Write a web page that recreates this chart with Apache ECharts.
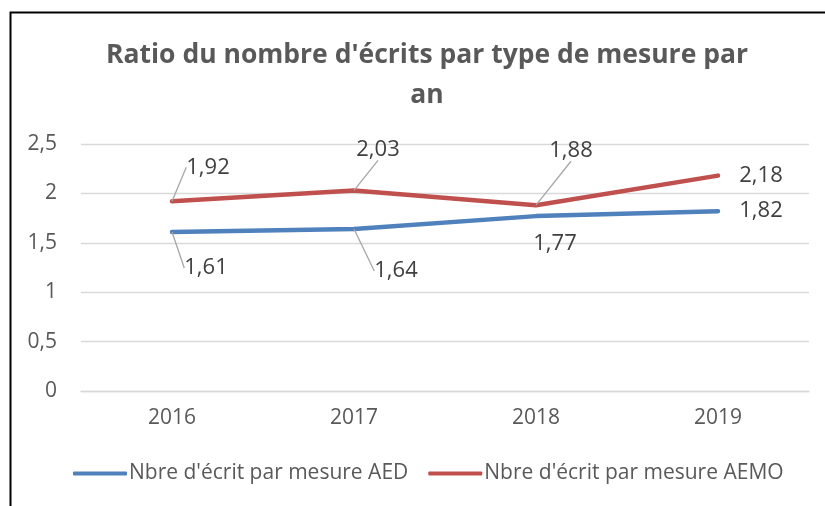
<!DOCTYPE html>
<html>
<head>
<meta charset="utf-8">
<script src="https://cdn.jsdelivr.net/npm/echarts@6/dist/echarts.min.js"></script>
<style>
html,body{margin:0;padding:0;background:#fff;}
#c{width:825px;height:506px;}
</style>
</head>
<body>
<div id="c"></div>
<script>
const categories = ['2016', '2017', '2018', '2019'];
const aedValues = [1.61, 1.64, 1.77, 1.82];
const aemoValues = [1.92, 2.03, 1.88, 2.18];
const seriesNames = ["Nbre d'écrit par mesure AED", "Nbre d'écrit par mesure AEMO"];
const titleText = "Ratio du nombre d'écrits par type de mesure par\nan";

// label displacement (px) relative to each point, and whether a leader line is shown
const aedLabelShift = [[34, 36, true], [42, 42, true], [19, 28, false], [43, 0, false]];
const aemoLabelShift = [[36, -34, true], [24, -41, true], [35, -55, true], [43, 0, false]];

const FONT = 'Open Sans';
const fmt = v => String(v).replace('.', ',');

function buildData(values, shifts) {
  return values.map((v, i) => ({
    value: v,
    labelLine: { show: shifts[i][2] }
  }));
}

function makeSeries(name, values, shifts, color) {
  return {
    name: name,
    type: 'line',
    data: buildData(values, shifts),
    symbol: 'circle',
    symbolSize: 0.1,
    showSymbol: true,
    lineStyle: { color: color, width: 4.5, cap: 'round', join: 'round' },
    itemStyle: { color: color },
    label: {
      show: true,
      position: 'inside',
      formatter: p => fmt(p.value.toFixed(2)),
      fontFamily: FONT,
      fontSize: 22,
      color: '#404040'
    },
    labelLine: {
      show: true,
      showAbove: true,
      lineStyle: { color: '#a6a6a6', width: 1.3 }
    },
    labelLayout: function (params) {
      const s = shifts[params.dataIndex];
      return { dx: s[0], dy: s[1] };
    },
    emphasis: { disabled: true },
    animation: false
  };
}

const chart = echarts.init(document.getElementById('c'), null, { renderer: 'canvas' });
chart.setOption({
  backgroundColor: '#ffffff',
  animation: false,
  title: {
    text: titleText,
    left: 422,
    top: 30,
    textAlign: 'center',
    textStyle: {
      fontFamily: FONT,
      fontWeight: 'bold',
      fontSize: 26.5,
      color: '#595959',
      lineHeight: 40
    }
  },
  legend: {
    bottom: 17,
    left: 68,
    itemWidth: 54,
    itemHeight: 4,
    itemGap: 20,
    icon: 'roundRect',
    textStyle: { fontFamily: FONT, fontSize: 21, color: '#595959', padding: [0, 0, 0, -3] },
    data: seriesNames
  },
  grid: {
    left: 81,
    right: 16,
    top: 144,
    bottom: 115,
    outerBoundsMode: 'none'
  },
  xAxis: {
    type: 'category',
    data: categories,
    boundaryGap: true,
    axisLine: { show: true, lineStyle: { color: '#d9d9d9', width: 1.3 } },
    axisTick: { show: false },
    axisLabel: { fontFamily: FONT, fontSize: 21, color: '#595959', margin: 17 }
  },
  yAxis: {
    type: 'value',
    min: 0,
    max: 2.5,
    interval: 0.5,
    axisLine: { show: false },
    axisTick: { show: false },
    splitLine: { lineStyle: { color: '#d9d9d9', width: 1.3 } },
    axisLabel: {
      fontFamily: FONT, fontSize: 21, color: '#595959', margin: 24,
      formatter: v => fmt(v)
    }
  },
  series: [
    makeSeries(seriesNames[0], aedValues, aedLabelShift, '#4F81BD'),
    makeSeries(seriesNames[1], aemoValues, aemoLabelShift, '#C0504D')
  ],
  graphic: [{
    type: 'rect',
    silent: true,
    z: 100,
    shape: { x: 10.5, y: 12.5, width: 900, height: 600 },
    style: { fill: 'none', stroke: '#000', lineWidth: 2 }
  }]
});
</script>
</body>
</html>
